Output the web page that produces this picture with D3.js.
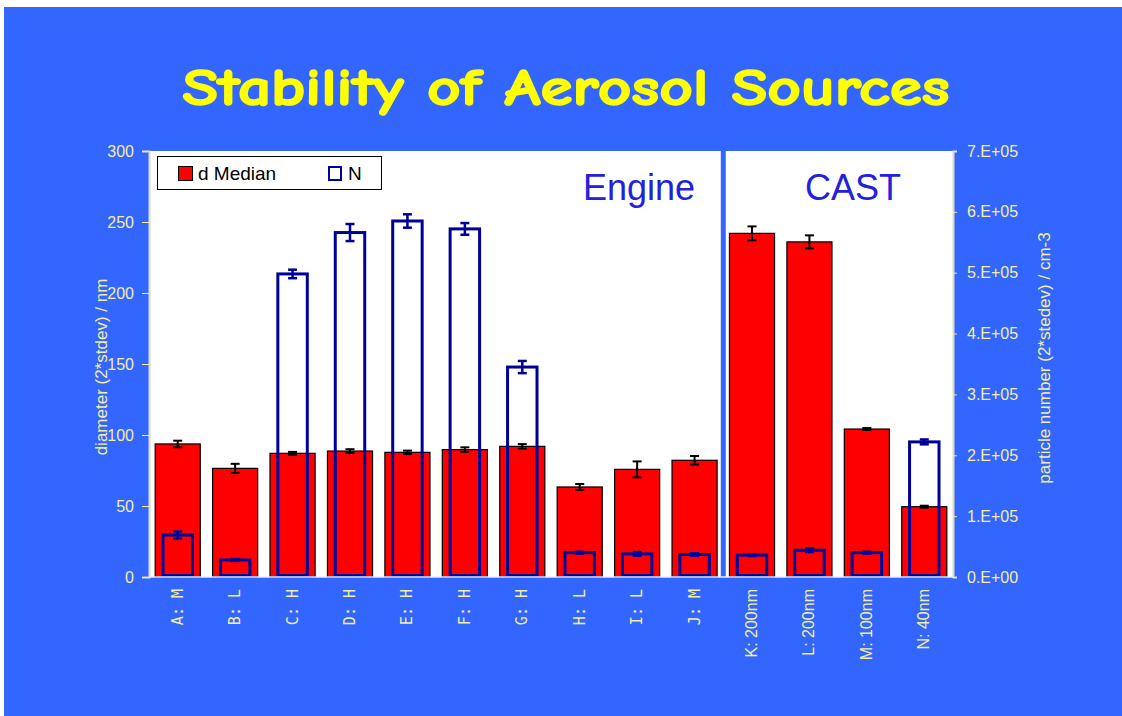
<!DOCTYPE html>
<html>
<head>
<meta charset="utf-8">
<script src="https://cdnjs.cloudflare.com/ajax/libs/d3/7.8.5/d3.min.js"></script>
<style>
  body { margin: 0; background: #fff; }
  svg { display: block; }
</style>
</head>
<body>
<div id="chart"></div>
<script>
// categories of the two sections
var engineCats = ['A: M', 'B: L', 'C: H', 'D: H', 'E: H', 'F: H', 'G: H', 'H: L', 'I: L', 'J: M'];
var castCats = ['K: 200nm', 'L: 200nm', 'M: 100nm', 'N: 40nm'];

// d Median (nm) and its 2*stdev
var dMedian = [93.7, 76.5, 87.1, 88.7, 87.8, 89.7, 92, 63.4, 75.8, 82.2, 242, 236, 104.2, 49.5];
var dErr = [2.3, 3.2, 1, 1.3, 1.2, 1.6, 1.6, 2.1, 5.6, 3, 4.9, 4.6, 0.7, 0.7];

// N (cm-3) and its 2*stdev
var nVal = [69000, 28000, 498000, 566000, 585000, 572000, 345000, 40000, 38000, 37000, 36000, 44000, 40000, 222000];
var nErr = [5800, 1500, 7000, 14000, 11000, 9600, 10000, 1500, 3000, 2000, 1500, 3000, 1500, 4000];

var leftTicks = [0, 50, 100, 150, 200, 250, 300];
var rightTicks = [0, 1e5, 2e5, 3e5, 4e5, 5e5, 6e5, 7e5];

var W = 1122, H = 716;
var axisCol = '#f2eea0';
var lineCol = '#dcdcc4';
var sans = '"Liberation Sans", Arial, sans-serif';

var svg = d3.select('#chart').append('svg').attr('width', W).attr('height', H);

svg.append('rect').attr('x', 4).attr('y', 7).attr('width', W - 4).attr('height', H - 7)
  .attr('fill', '#3366ff');

svg.append('text')
  .attr('x', 566).attr('y', 105)
  .attr('text-anchor', 'middle')
  .attr('textLength', 767).attr('lengthAdjust', 'spacingAndGlyphs')
  .style('font', 'bold 52px "Comic Sans MS", "Comic Neue", "DejaVu Sans", sans-serif')
  .style('fill', '#ffff00')
  .style('stroke', '#ffff00').style('stroke-width', 1.6)
  .text('Stability of Aerosol Sources');

var plotTop = 151, plotBottom = 577, plotLeft = 149, plotRight = 953;

var yL = d3.scaleLinear().domain([0, 300]).range([plotBottom, plotTop]);
var yR = d3.scaleLinear().domain([0, 7e5]).range([plotBottom, plotTop]);

var x = d3.scaleBand().domain(engineCats.concat(castCats)).range([plotLeft, plotRight])
  .paddingInner(0.215).paddingOuter(0.1075);

// plot area
svg.append('rect').attr('x', plotLeft).attr('y', plotTop)
  .attr('width', plotRight - plotLeft).attr('height', plotBottom - plotTop).attr('fill', '#fff');
var sepX = (x(engineCats[engineCats.length - 1]) + x.bandwidth() + x(castCats[0])) / 2;
svg.append('rect').attr('x', sepX - 2.5).attr('y', plotTop).attr('width', 5)
  .attr('height', plotBottom - plotTop).attr('fill', '#3366ff');

var rows = dMedian.map(function (d, i) {
  var isEngine = i < engineCats.length;
  var cat = isEngine ? engineCats[i] : castCats[i - engineCats.length];
  return { cat: cat, engine: isEngine, d: d, dErr: dErr[i], n: nVal[i], nErr: nErr[i] };
});
var cx = function (r) { return x(r.cat) + x.bandwidth() / 2; };

// red bars (d Median)
svg.append('g').selectAll('rect').data(rows).enter().append('rect')
  .attr('x', function (r) { return x(r.cat); })
  .attr('y', function (r) { return yL(r.d); })
  .attr('width', x.bandwidth())
  .attr('height', function (r) { return yL(0) - yL(r.d); })
  .attr('fill', '#ff0000')
  .attr('stroke', '#000')
  .attr('stroke-width', 1.2);

// N bars
svg.append('g').selectAll('rect').data(rows).enter().append('rect')
  .attr('x', function (r) { return cx(r) - x.bandwidth() * 0.36 + 1.5; })
  .attr('y', function (r) { return yR(r.n); })
  .attr('width', x.bandwidth() * 0.72 - 3)
  .attr('height', function (r) { return yR(0) - yR(r.n) - 1.5; })
  .attr('fill', 'none')
  .attr('stroke', '#000099')
  .attr('stroke-width', 3);

function errBars(yS, val, err, col, sw) {
  var g = svg.append('g').attr('stroke', col).attr('stroke-width', sw);
  g.selectAll('.v').data(rows).enter().append('line')
    .attr('x1', cx).attr('x2', cx)
    .attr('y1', function (r) { return yS(r[val] - r[err]); })
    .attr('y2', function (r) { return yS(r[val] + r[err]); });
  [-1, 1].forEach(function (s) {
    g.selectAll('.c' + s).data(rows).enter().append('line')
      .attr('x1', function (r) { return cx(r) - 4.5; })
      .attr('x2', function (r) { return cx(r) + 4.5; })
      .attr('y1', function (r) { return yS(r[val] + s * r[err]); })
      .attr('y2', function (r) { return yS(r[val] + s * r[err]); });
  });
}
errBars(yL, 'd', 'dErr', '#000', 2);
errBars(yR, 'n', 'nErr', '#000099', 2.5);

// axes
var axL = svg.append('g').attr('transform', 'translate(' + plotLeft + ',0)')
  .call(d3.axisLeft(yL).tickValues(leftTicks).tickSize(7).tickPadding(8));
var axR = svg.append('g').attr('transform', 'translate(' + plotRight + ',0)')
  .call(d3.axisRight(yR).tickValues(rightTicks).tickSize(4).tickPadding(10)
    .tickFormat(function (d) { return d === 0 ? '0.E+00' : (d / 1e5).toFixed(0) + '.E+05'; }));
[axL, axR].forEach(function (ax) {
  ax.select('.domain').attr('stroke', lineCol).attr('stroke-width', 2);
  ax.selectAll('.tick line').attr('stroke', axisCol);
  ax.selectAll('.tick text').style('fill', axisCol).style('font', '16px ' + sans);
});
svg.append('line').attr('x1', plotLeft).attr('x2', plotRight)
  .attr('y1', plotBottom).attr('y2', plotBottom)
  .attr('stroke', '#e6ecff').attr('stroke-width', 1.5);

// category labels
svg.append('g').style('fill', axisCol)
  .selectAll('text').data(rows).enter().append('text')
  .attr('transform', function (r) {
    return 'translate(' + (cx(r) + 5) + ',589) rotate(-90)';
  })
  .attr('text-anchor', 'end')
  .style('font', function (r) {
    return r.engine ? '15px "DejaVu Sans Mono", monospace' : '16px ' + sans;
  })
  .text(function (r) { return r.cat; });

// axis titles
svg.append('text')
  .attr('transform', 'translate(107,367) rotate(-90)')
  .attr('text-anchor', 'middle')
  .style('fill', axisCol)
  .style('font', '17px ' + sans)
  .text('diameter (2*stdev) / nm');
svg.append('text')
  .attr('transform', 'translate(1050,358) rotate(-90)')
  .attr('text-anchor', 'middle')
  .style('fill', axisCol)
  .style('font', '17px ' + sans)
  .text('particle number (2*stedev) / cm-3');

// section names
svg.append('text').attr('x', 639).attr('y', 200).attr('text-anchor', 'middle')
  .style('font', '36px ' + sans).style('fill', '#2222dd')
  .text('Engine');
svg.append('text').attr('x', 853).attr('y', 200).attr('text-anchor', 'middle')
  .style('font', '36px ' + sans).style('fill', '#2222dd')
  .text('CAST');

// legend
var leg = svg.append('g');
leg.append('rect').attr('x', 157.5).attr('y', 156.5).attr('width', 224).attr('height', 33)
  .attr('fill', '#fff').attr('stroke', '#000').attr('stroke-width', 1);
leg.append('rect').attr('x', 178.5).attr('y', 166.5).attr('width', 14).attr('height', 14)
  .attr('fill', '#ff0000').attr('stroke', '#000').attr('stroke-width', 1);
leg.append('text').attr('x', 198).attr('y', 180)
  .style('font', '19px ' + sans).text('d Median');
leg.append('rect').attr('x', 329).attr('y', 167).attr('width', 12).attr('height', 13)
  .attr('fill', '#fff').attr('stroke', '#000099').attr('stroke-width', 2);
leg.append('text').attr('x', 348).attr('y', 180)
  .style('font', '19px ' + sans).text('N');
</script>
</body>
</html>
